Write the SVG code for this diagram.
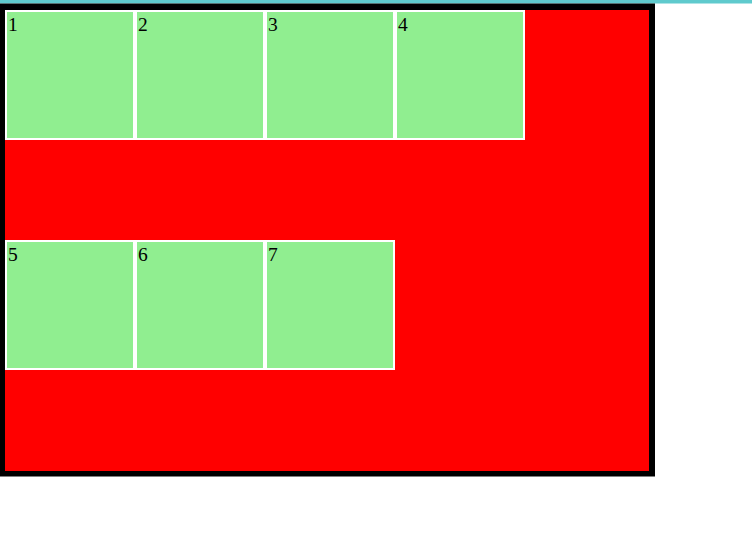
<svg xmlns="http://www.w3.org/2000/svg" width="752" height="551" viewBox="0 0 752 551">
<style>
.cell{fill:#90ee90;stroke:#fff;stroke-width:2}
.lbl{font-family:"Liberation Serif","Times New Roman",serif;font-size:19.5px;fill:#000}
</style>
<rect x="0" y="0" width="752" height="551" fill="#fff"/>
<rect x="0" y="0" width="752" height="3.5" fill="#5fcacd"/>
<rect x="0" y="3.5" width="655" height="473" fill="#000"/>
<rect x="5" y="10" width="644" height="461" fill="#f00"/>
<g id="n1"><rect class="cell" x="6" y="11" width="128" height="128"/><text class="lbl" x="8" y="31">1</text></g>
<g id="n2"><rect class="cell" x="136" y="11" width="128" height="128"/><text class="lbl" x="138" y="31">2</text></g>
<g id="n3"><rect class="cell" x="266" y="11" width="128" height="128"/><text class="lbl" x="268" y="31">3</text></g>
<g id="n4"><rect class="cell" x="396" y="11" width="128" height="128"/><text class="lbl" x="398" y="31">4</text></g>
<g id="n5"><rect class="cell" x="6" y="241" width="128" height="128"/><text class="lbl" x="8" y="261">5</text></g>
<g id="n6"><rect class="cell" x="136" y="241" width="128" height="128"/><text class="lbl" x="138" y="261">6</text></g>
<g id="n7"><rect class="cell" x="266" y="241" width="128" height="128"/><text class="lbl" x="268" y="261">7</text></g>
<g id="connectors"></g>
</svg>
